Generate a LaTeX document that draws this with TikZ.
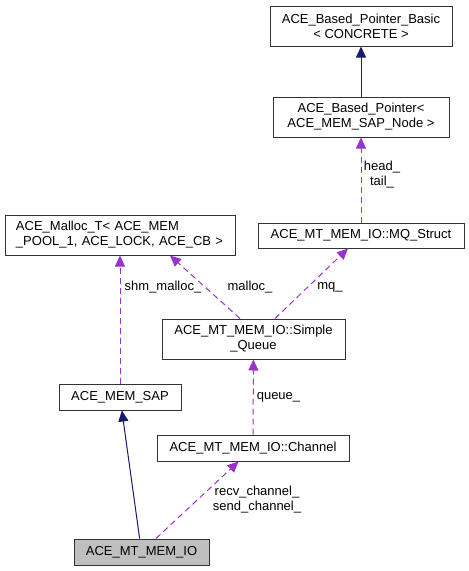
\documentclass[tikz,border=0pt]{standalone}
\usepackage{fontspec}
\setmainfont{Liberation Sans}
\usetikzlibrary{arrows.meta}
\definecolor{edgeblue}{RGB}{25,25,112}
\definecolor{edgepurple}{RGB}{154,50,205}
\begin{document}
\begin{tikzpicture}[x=1pt, y=-1pt, font=\fontsize{13}{15}\selectfont,
  cls/.style={draw=black!80, line width=1pt, fill=white, inner sep=0pt, align=center},
  inherit/.style={edgeblue, line width=1pt, -{Triangle[length=11pt,width=10pt]}},
  member/.style={edgepurple, line width=1pt, dash pattern=on 6pt off 4pt, -{Triangle[length=11pt,width=10pt]}},
  lbl/.style={align=center, inner sep=0pt}]
\useasboundingbox (0,0) rectangle (469,571);
\node[cls, minimum width=182pt, minimum height=40pt] (basic) at (361,26) {ACE\_Based\_Pointer\_Basic\\< CONCRETE >};
\node[cls, minimum width=176pt, minimum height=40pt] (bptr) at (361,117) {ACE\_Based\_Pointer<\\ ACE\_MEM\_SAP\_Node >};
\node[cls, minimum width=230pt, minimum height=40pt, text width=208pt, align=left] (malloc) at (120,235) {ACE\_Malloc\_T< ACE\_MEM\\\_POOL\_1, ACE\_LOCK, ACE\_CB >};
\node[cls, minimum width=206pt, minimum height=25pt] (mqs) at (361,235.5) {ACE\_MT\_MEM\_IO::MQ\_Struct};
\node[cls, minimum width=183pt, minimum height=40pt] (squeue) at (253.5,339) {ACE\_MT\_MEM\_IO::Simple\\\_Queue};
\node[cls, minimum width=122pt, minimum height=26pt] (memsap) at (120,397) {ACE\_MEM\_SAP};
\node[cls, minimum width=192pt, minimum height=26pt] (channel) at (253,448) {ACE\_MT\_MEM\_IO::Channel};
\node[cls, fill=black!25, minimum width=135pt, minimum height=26pt] (mtio) at (141.5,552) {ACE\_MT\_MEM\_IO};
\draw[inherit] (bptr) -- (basic);
\draw[member] (mqs) -- (bptr);
\draw[member] (memsap) -- (malloc);
\draw[member] ([xshift=-13.5pt]squeue.north) -- ([xshift=50pt]malloc.south);
\draw[member] ([xshift=21.5pt]squeue.north) -- ([xshift=-13pt]mqs.south);
\draw[member] (channel) -- (squeue);
\draw[inherit] (mtio) -- (memsap);
\draw[member] (mtio) -- (channel);
\node[lbl] (headlbl) at (382,175) {head\_\\tail\_};
\node[lbl] (shmlbl) at (163,287) {shm\_malloc\_};
\node[lbl] (malloclbl) at (250,287) {malloc\_};
\node[lbl] (mqlbl) at (330,287) {mq\_};
\node[lbl] (queuelbl) at (278.5,397) {queue\_};
\node[lbl] (chanlbl) at (257,499.5) {recv\_channel\_\\send\_channel\_};
\end{tikzpicture}
\end{document}
